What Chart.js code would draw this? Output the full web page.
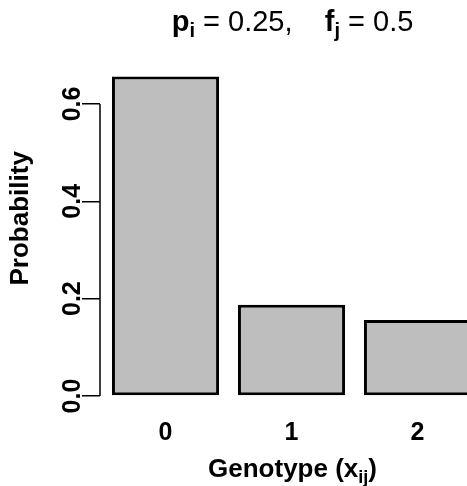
<!DOCTYPE html>
<html>
<head>
<meta charset="utf-8">
<script src="https://cdn.jsdelivr.net/npm/chart.js@4/dist/chart.umd.min.js"></script>
<style>
  html, body { margin: 0; padding: 0; background: #ffffff; overflow: hidden; }
  #wrap { width: 467px; height: 486px; position: relative; overflow: hidden; }
  #chart { display: block; }
</style>
</head>
<body>
<div id="wrap"><canvas id="chart" width="480" height="486"></canvas></div>
<script>
// Genotype probabilities under inbreeding
const genotypes = [0, 1, 2];
const probabilities = [0.65625, 0.1875, 0.15625];
const yTickValues = [0, 0.2, 0.4, 0.6];
const yTickLabels = ['0.0', '0.2', '0.4', '0.6'];
const xTickLabels = ['0', '1', '2'];
const alleleFreq = '0.25';
const inbreeding = '0.5';

const FONT = '"Liberation Sans", Arial, Helvetica, sans-serif';

// draws a run of text pieces (bold / subscript) centred on cx
function drawRich(ctx, pieces, cx, baseline, size) {
  const fontFor = p => (p.bold ? 'bold ' : '') + (p.sub ? Math.round(size * 0.7) : size) + 'px ' + FONT;
  let total = 0;
  pieces.forEach(p => { ctx.font = fontFor(p); total += ctx.measureText(p.text).width; });
  let x = cx - total / 2;
  ctx.save();
  ctx.fillStyle = '#000';
  ctx.textAlign = 'left';
  ctx.textBaseline = 'alphabetic';
  pieces.forEach(p => {
    ctx.font = fontFor(p);
    ctx.fillText(p.text, x, baseline + (p.sub ? size * 0.22 : 0));
    x += ctx.measureText(p.text).width;
  });
  ctx.restore();
}

const annotations = {
  id: 'annotations',
  afterDraw(chart) {
    const ctx = chart.ctx;
    const xs = chart.scales.x;
    const ys = chart.scales.y;
    // y axis line spanning the tick range only
    ctx.save();
    ctx.strokeStyle = '#000';
    ctx.lineWidth = 1.5;
    ctx.beginPath();
    ctx.moveTo(xs.left, ys.getPixelForValue(yTickValues[0]));
    ctx.lineTo(xs.left, ys.getPixelForValue(yTickValues[yTickValues.length - 1]));
    ctx.stroke();
    ctx.restore();

    // y axis title, reading bottom to top
    ctx.save();
    ctx.translate(21, ys.getPixelForValue(0.365));
    ctx.rotate(-Math.PI / 2);
    ctx.font = 'bold 26px ' + FONT;
    ctx.fillStyle = '#000';
    ctx.textAlign = 'center';
    ctx.textBaseline = 'middle';
    ctx.fillText('Probability', 0, 0);
    ctx.restore();

    const cx = xs.getPixelForValue(genotypes[1]) + 1;
    drawRich(ctx, [
      { text: 'p', bold: true },
      { text: 'i', bold: true, sub: true },
      { text: ' = ' + alleleFreq + ',    ' },
      { text: 'f', bold: true },
      { text: 'j', bold: true, sub: true },
      { text: ' = ' + inbreeding }
    ], cx, 31, 29);

    drawRich(ctx, [
      { text: 'Genotype (x', bold: true },
      { text: 'ij', bold: true, sub: true },
      { text: ')', bold: true }
    ], cx, 477, 26);
  }
};

new Chart(document.getElementById('chart'), {
  type: 'bar',
  data: {
    datasets: [{
      data: genotypes.map((g, i) => ({ x: g, y: probabilities[i] })),
      backgroundColor: '#bebebe',
      borderColor: '#000000',
      borderWidth: 3,
      // the last bar runs past the right edge of the plot
      borderSkipped: (c) => (c.dataIndex === genotypes.length - 1 ? 'right' : false),
      categoryPercentage: 1,
      barPercentage: 0.85
    }]
  },
  options: {
    responsive: false,
    animation: false,
    devicePixelRatio: 1,
    layout: { padding: { top: 64, left: 0, right: 0, bottom: 0 } },
    plugins: { legend: { display: false }, tooltip: { enabled: false }, title: { display: false } },
    scales: {
      x: {
        type: 'linear',
        offset: false,
        min: -0.52,
        max: 2.496,
        grid: { display: false, drawTicks: false },
        border: { display: false },
        afterBuildTicks(scale) { scale.ticks = genotypes.map(v => ({ value: v })); },
        afterFit(scale) { scale.height = 77; },
        ticks: {
          padding: 9,
          color: '#000',
          font: { family: FONT, size: 25, weight: 'bold' },
          callback: (v) => xTickLabels[genotypes.indexOf(v)]
        }
      },
      y: {
        type: 'linear',
        min: -0.0267,
        max: 0.682,
        grid: { drawOnChartArea: false, drawTicks: true, tickLength: 18, color: '#000', lineWidth: 1.5 },
        border: { display: false },
        afterBuildTicks(scale) { scale.ticks = yTickValues.map(v => ({ value: v })); },
        afterFit(scale) { scale.width = 100; },
        ticks: {
          minRotation: 90,
          maxRotation: 90,
          crossAlign: 'center',
          padding: -8,
          color: '#000',
          font: { family: FONT, size: 25, weight: 'bold' },
          callback: (v) => yTickLabels[yTickValues.indexOf(v)]
        }
      }
    }
  },
  plugins: [annotations]
});
</script>
</body>
</html>
